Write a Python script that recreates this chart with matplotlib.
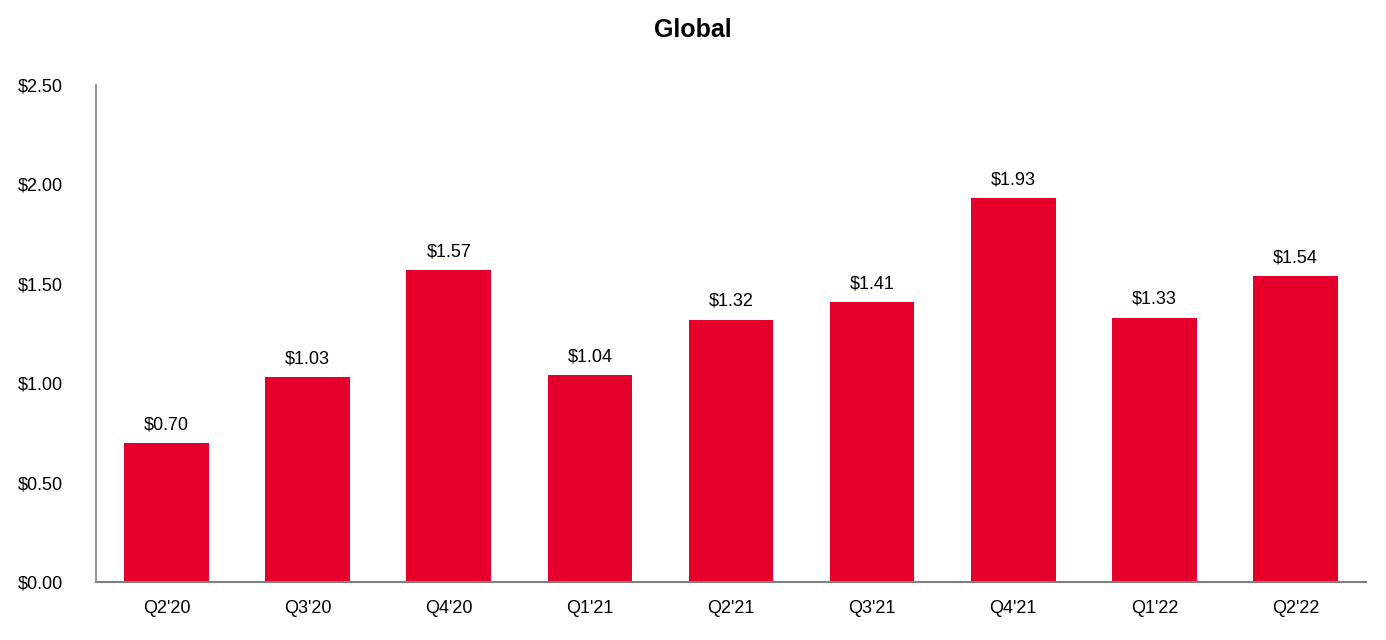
import matplotlib.pyplot as plt

plt.rcParams['font.family'] = ['Liberation Sans', 'DejaVu Sans']

quarters = ["Q2'20", "Q3'20", "Q4'20", "Q1'21", "Q2'21", "Q3'21", "Q4'21", "Q1'22", "Q2'22"]
values = [0.70, 1.03, 1.57, 1.04, 1.32, 1.41, 1.93, 1.33, 1.54]
yticks = [0.0, 0.5, 1.0, 1.5, 2.0, 2.5]

fig = plt.figure(figsize=(13.86, 6.4), dpi=100)
ax = fig.add_axes([0.0693, 0.0906, 0.9163, 0.7765])

x = range(len(quarters))
bars = ax.bar(x, values, width=0.6, color='#E4002B')
for b, v in zip(bars, values):
    ax.annotate(f'${v:.2f}', (b.get_x() + b.get_width() / 2, v),
                xytext=(0, 7), textcoords='offset points',
                ha='center', va='bottom', fontsize=13)

ax.set_xlim(-0.5, len(quarters) - 0.5)
ax.set_ylim(0, 2.5)
ax.set_xticks(list(x))
ax.set_xticklabels(quarters)
ax.set_yticks(yticks)
ax.set_yticklabels([f'${t:.2f}' for t in yticks])
ax.tick_params(axis='both', length=0, labelsize=13)
ax.tick_params(axis='y', pad=24)
ax.tick_params(axis='x', pad=13)

for s in ['top', 'right']:
    ax.spines[s].set_visible(False)
ax.spines['left'].set_color('#999999')
ax.spines['bottom'].set_color('#7f7f7f')
ax.spines['left'].set_linewidth(1.5)
ax.spines['bottom'].set_linewidth(1.5)

fig.text(0.5, 0.953, 'Global', ha='center', va='center', fontsize=18, fontweight='bold')

fig.savefig('out.png', dpi=100)
